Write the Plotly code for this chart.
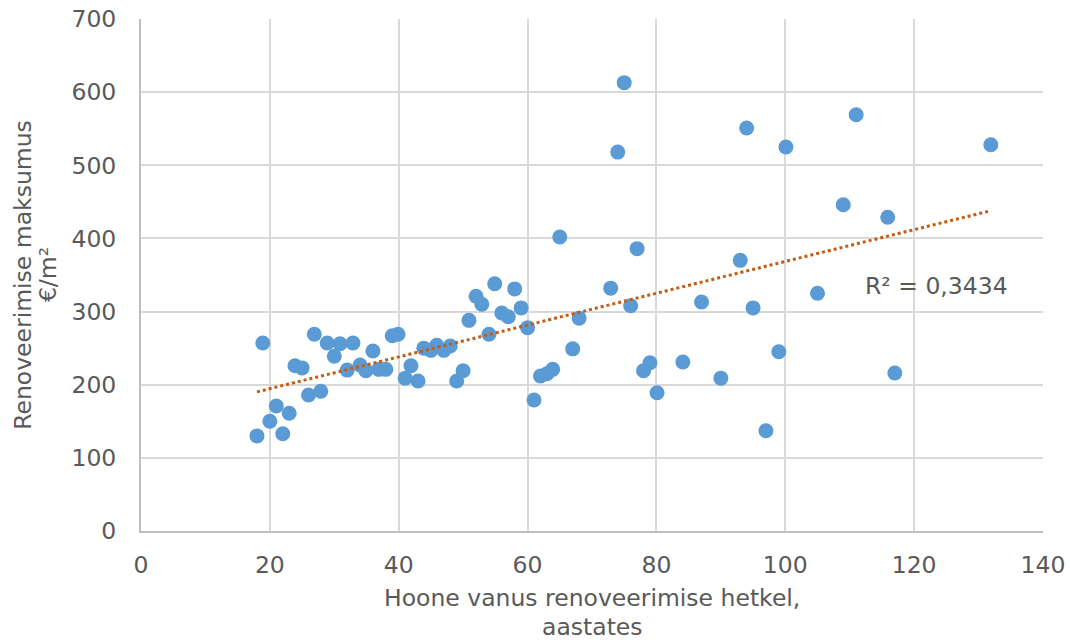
import numpy as np
import plotly.graph_objects as go

age = [18, 18.9, 20, 21, 22, 23, 23.9, 25, 26, 26.9, 27.9, 28.9, 30, 30.9, 32, 32.9,
       34, 34.9, 36, 36.9, 38, 39, 39.9, 41, 41.9, 43, 43.9, 45, 45.9, 47, 48, 49,
       50, 50.9, 52, 52.9, 54, 54.9, 56, 57, 58, 59, 60, 61, 62, 63, 63.9, 65, 67,
       68, 72.9, 74, 75, 76, 77, 78, 79, 80.1, 84.1, 87, 90, 93, 94, 95, 97, 99,
       100.1, 105, 109, 111, 115.9, 117, 131.9]
cost = [130, 257, 150, 171, 133, 161, 226, 223, 186, 269, 191, 257, 239, 256, 220, 257,
        227, 219, 246, 221, 221, 267, 269, 209, 226, 205, 250, 247, 254, 247, 253, 205,
        219, 288, 321, 310, 269, 338, 298, 293, 331, 305, 278, 179, 212, 215, 221, 402, 249,
        291, 332, 518, 613, 308, 386, 219, 230, 189, 231, 313, 209, 370, 551, 305, 137, 245,
        525, 325, 446, 569, 429, 216, 528]
r2_label = "R² = 0,3434"
x_title = ["Hoone vanus renoveerimise hetkel,", "aastates"]
y_title = ["Renoveerimise maksumus", "€/m²"]

x = np.array(age)
y = np.array(cost)
slope, intercept = np.polyfit(x, y, 1)
tx = np.array([x.min(), x.max()])
ty = slope * tx + intercept

font = "DejaVu Sans, Verdana, sans-serif"
grey = "#595959"
fs = 23.5

fig = go.Figure()
fig.add_trace(go.Scatter(x=age, y=cost, mode="markers",
                         marker=dict(size=15, color="#5B9BD5", line=dict(width=0)),
                         showlegend=False))
fig.add_trace(go.Scatter(x=tx, y=ty, mode="lines",
                         line=dict(color="#C55A11", width=3, dash="dot"),
                         showlegend=False))
fig.add_annotation(x=112.0, y=335, xref="x", yref="y", text=r2_label, showarrow=False,
                   xanchor="left", yanchor="middle",
                   font=dict(family=font, size=fs, color=grey))

# axis titles (as annotations for exact line spacing)
fig.add_annotation(x=0.5, y=-0.130, xref="paper", yref="paper", text=x_title[0],
                   showarrow=False, xanchor="center", yanchor="middle",
                   font=dict(family=font, size=fs, color=grey))
fig.add_annotation(x=0.5, y=-0.187, xref="paper", yref="paper", text=x_title[1],
                   showarrow=False, xanchor="center", yanchor="middle",
                   font=dict(family=font, size=fs, color=grey))
fig.add_annotation(x=-0.131, y=0.5, xref="paper", yref="paper", text=y_title[0],
                   showarrow=False, xanchor="center", yanchor="middle", textangle=-90,
                   font=dict(family=font, size=fs, color=grey))
fig.add_annotation(x=-0.103, y=0.5, xref="paper", yref="paper", text=y_title[1],
                   showarrow=False, xanchor="center", yanchor="middle", textangle=-90,
                   font=dict(family=font, size=fs, color=grey))

fig.update_layout(
    width=1070, height=640,
    margin=dict(l=141, r=27, t=19, b=109),
    paper_bgcolor="white", plot_bgcolor="white",
    font=dict(family=font, size=fs, color=grey),
    xaxis=dict(range=[0, 140], dtick=20, showgrid=True, gridcolor="#D9D9D9", gridwidth=2,
               zeroline=False, showline=True, linecolor="#BFBFBF", linewidth=2,
               ticks="", ticklabelstandoff=12, automargin=False,
               tickfont=dict(family=font, size=fs, color=grey)),
    yaxis=dict(range=[0, 700], dtick=100, showgrid=True, gridcolor="#D9D9D9", gridwidth=2,
               zeroline=False, showline=True, linecolor="#BFBFBF", linewidth=2,
               ticks="", ticklabelstandoff=18, automargin=False,
               tickfont=dict(family=font, size=fs, color=grey)),
)
fig.write_html("out.html")
